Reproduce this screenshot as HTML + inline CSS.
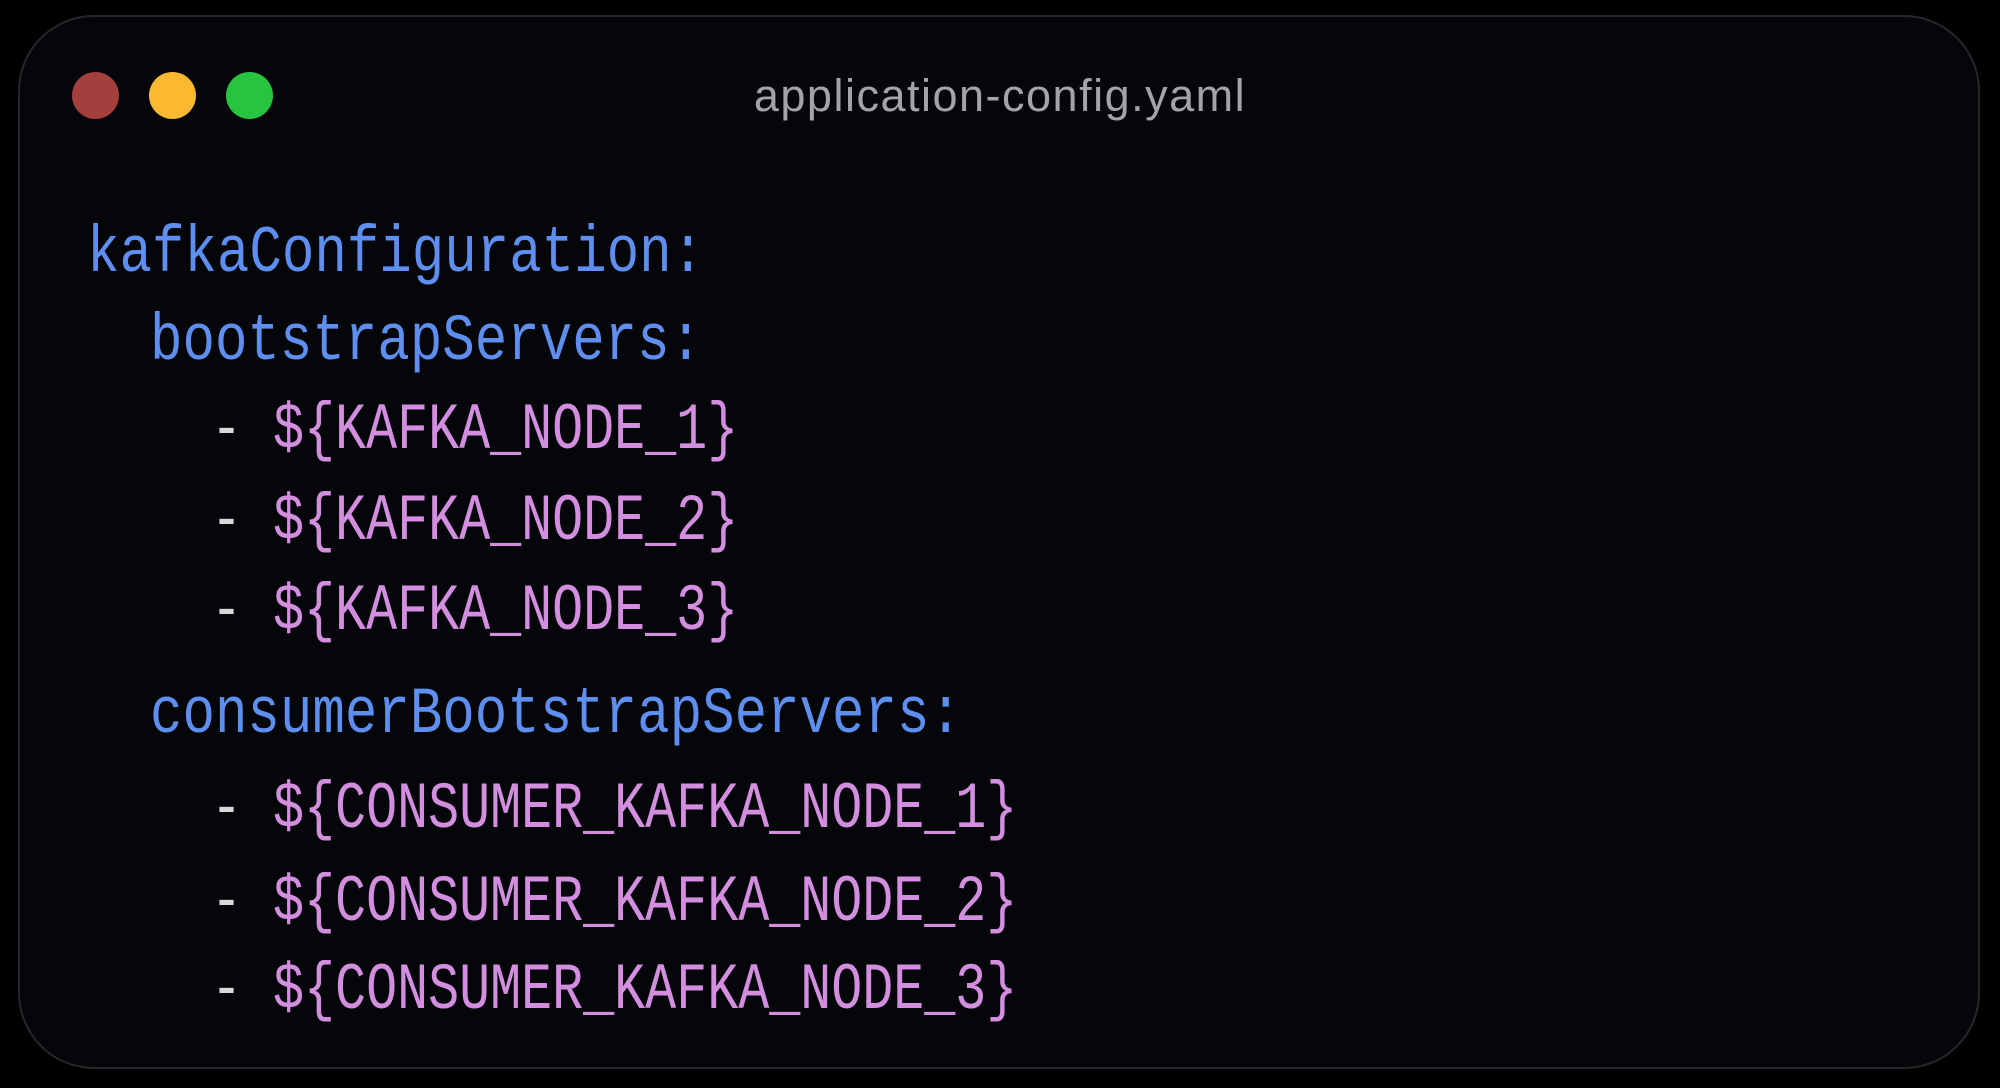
<!DOCTYPE html>
<html><head><meta charset="utf-8"><style>
html,body{margin:0;padding:0;background:#000;width:2000px;height:1088px;overflow:hidden}
.win{position:absolute;left:18px;top:15px;width:1962px;height:1054px;border:2px solid #26272b;border-radius:76px;background:#05060a;box-sizing:border-box}
.dot{position:absolute;top:72px;width:47px;height:47px;border-radius:50%}
.title{position:absolute;left:0;width:2000px;top:70px;text-align:center;font-family:"Liberation Sans",sans-serif;font-size:45px;letter-spacing:1.5px;color:#a3a3a8}
.l{position:absolute;font-family:"Liberation Mono",monospace;font-size:66px;line-height:1;white-space:pre;transform:scaleX(0.783);transform-origin:0 0}
.b{color:#5e8ef0}.p{color:#d38ee0}.d{color:#d8d8d8}
.b.l{transform:scaleX(0.82)}
</style></head><body>
<div class="win"></div>
<div class="dot" style="left:72px;background:#a3403e"></div>
<div class="dot" style="left:149px;background:#fbb932"></div>
<div class="dot" style="left:226px;background:#27c43f"></div>
<div class="title">application-config.yaml</div>
<div class="l b" style="left:87px;top:221px">kafkaConfiguration:</div>
<div class="l b" style="left:150px;top:309px">bootstrapServers:</div>
<div class="l" style="left:211px;top:398px"><span class="d">-</span> <span class="p">${KAFKA_NODE_1}</span></div>
<div class="l" style="left:211px;top:489px"><span class="d">-</span> <span class="p">${KAFKA_NODE_2}</span></div>
<div class="l" style="left:211px;top:579px"><span class="d">-</span> <span class="p">${KAFKA_NODE_3}</span></div>
<div class="l b" style="left:150px;top:682px">consumerBootstrapServers:</div>
<div class="l" style="left:211px;top:777px"><span class="d">-</span> <span class="p">${CONSUMER_KAFKA_NODE_1}</span></div>
<div class="l" style="left:211px;top:870px"><span class="d">-</span> <span class="p">${CONSUMER_KAFKA_NODE_2}</span></div>
<div class="l" style="left:211px;top:958px"><span class="d">-</span> <span class="p">${CONSUMER_KAFKA_NODE_3}</span></div>
</body></html>
